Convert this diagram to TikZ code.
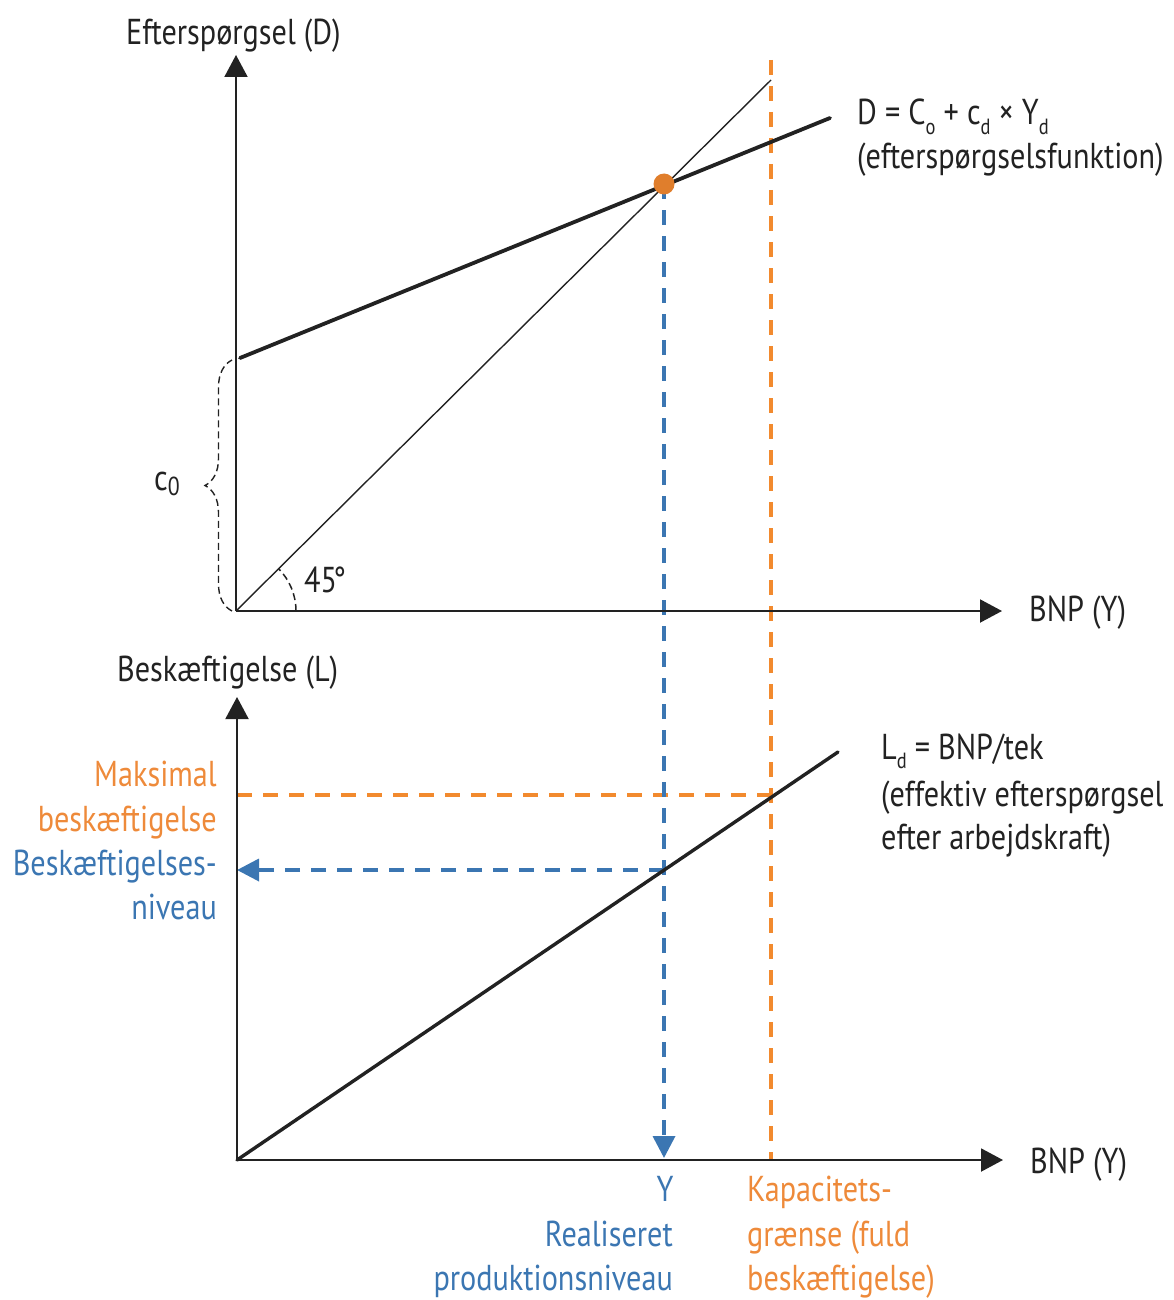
\documentclass[tikz,border=0pt]{standalone}
\usepackage{fontspec}
\setmainfont{PT Sans}[FakeStretch=0.84]
\usetikzlibrary{arrows.meta,decorations.pathreplacing}
\definecolor{orng}{HTML}{F28A2E}
\definecolor{orngtxt}{HTML}{EE8A3A}
\definecolor{blu}{HTML}{3B76B2}
\definecolor{dot}{HTML}{E07E2C}
\definecolor{ink}{HTML}{222222}
\newcommand\lowsub[1]{\raisebox{-0.55ex}{\fontsize{22}{22}\selectfont #1}}
\begin{document}
\begin{tikzpicture}[x=1pt,y=-1pt,
  lbl/.style={inner sep=0pt,font=\fontsize{36}{42}\selectfont,text=ink},
  axis/.style={line width=2pt,draw=ink,-{Triangle[length=22pt,width=23pt]}},
  thick line/.style={line width=3.8pt,draw=ink,line cap=round},
  thin line/.style={line width=1.4pt,draw=ink},
  odash/.style={line width=3.6pt,draw=orng,dash pattern=on 15pt off 11pt},
  bdash/.style={line width=3.6pt,draw=blu,dash pattern=on 15pt off 11pt},
  barrow/.style={bdash,-{Triangle[length=22pt,width=22pt]}},
]
\useasboundingbox (0,0) rectangle (1173,1300);
% coordinates
\coordinate (O1) at (236,611);
\coordinate (Ytop1) at (236,55);
\coordinate (Xend1) at (1002,611);
\coordinate (O2) at (237,1160);
\coordinate (Ytop2) at (237,697);
\coordinate (Xend2) at (1003,1160);
\coordinate (Dstart) at (240,358);
\coordinate (Dend) at (830,118);
\coordinate (Fend) at (771,80);
\coordinate (Eq) at (664,184);
\coordinate (Ltop) at (838,752);
\coordinate (Otop) at (771,60);
\coordinate (Obot) at (771,1160);
\coordinate (Bbot) at (664,1158);
\coordinate (Omax) at (771,795);
\coordinate (OmaxL) at (237,795);
\coordinate (Blev) at (664,870);
\coordinate (BlevL) at (237,870);
\coordinate (BrTop) at (232,360);
\coordinate (BrBot) at (232,611);

% dashed guides
\draw[odash] (Otop) -- (Obot);
\draw[odash] (OmaxL) -- (Omax);
\draw[barrow] (Eq) -- (Bbot);
\draw[barrow] (Blev) -- (BlevL);

% axes
\draw[axis] (O1) -- (Ytop1);
\draw[axis] (O1) -- (Xend1);
\draw[axis] (O2) -- (Ytop2);
\draw[axis] (O2) -- (Xend2);

% lines
\draw[thin line] (O1) -- (Fend);
\draw[thick line] (Dstart) -- (Dend);
\draw[line width=3.4pt,draw=ink,line cap=round] (O2) -- (Ltop);
\fill[dot] (Eq) circle[radius=10.5pt];

% 45 degree arc
\draw[line width=1.5pt,draw=ink,dash pattern=on 7pt off 4pt] (O1) ++(60pt,0pt) arc[start angle=0,end angle=45,radius=60pt];
% brace
\draw[line width=1.4pt,draw=ink,dash pattern=on 7pt off 4pt,decorate,decoration={brace,amplitude=27pt,aspect=0.5}] (BrBot) -- (BrTop);

% labels
\node[lbl,anchor=base west] (tD) at (126,45) {Efterspørgsel (D)};
\node[lbl,anchor=base west] (tX1) at (1029,621) {BNP (Y)};
\node[lbl,anchor=base west] (tL) at (117,681) {Beskæftigelse (L)};
\node[lbl,anchor=base west] (tX2) at (1030,1173) {BNP (Y)};
\node[lbl,anchor=base west] (t45) at (304,592) {45\kern-4pt°};
\node[lbl,anchor=base west] (tc0) at (154,490) {c\raisebox{-0.3ex}{\fontsize{26}{26}\selectfont 0}};
\node[lbl,anchor=base west] (tDf1) at (857,125) {D = C\lowsub{o} + c\lowsub{d} × Y\lowsub{d}};
\node[lbl,anchor=base west] (tDf2) at (857,169) {(efterspørgselsfunktion)};
\node[lbl,anchor=base west] (tLd1) at (881,759) {L\lowsub{d} = BNP/tek};
\node[lbl,anchor=base west] (tLd2) at (881,806) {(effektiv efterspørgsel};
\node[lbl,anchor=base west] (tLd3) at (881,849) {efter arbejdskraft)};
\node[lbl,anchor=base east,text=orngtxt] (tM1) at (217,786) {Maksimal};
\node[lbl,anchor=base east,text=orngtxt] (tM2) at (217,831) {beskæftigelse};
\node[lbl,anchor=base east,text=blu] (tB1) at (217,875) {Beskæftigelses-};
\node[lbl,anchor=base east,text=blu] (tB2) at (217,919) {niveau};
\node[lbl,anchor=base,text=blu] (tY) at (665,1201) {Y};
\node[lbl,anchor=base east,text=blu] (tR1) at (673,1246) {Realiseret};
\node[lbl,anchor=base east,text=blu] (tR2) at (673,1290) {produktionsniveau};
\node[lbl,anchor=base west,text=orngtxt] (tK1) at (747,1201) {Kapacitets-};
\node[lbl,anchor=base west,text=orngtxt] (tK2) at (747,1246) {grænse (fuld};
\node[lbl,anchor=base west,text=orngtxt] (tK3) at (747,1290) {beskæftigelse)};
\end{tikzpicture}
\end{document}
